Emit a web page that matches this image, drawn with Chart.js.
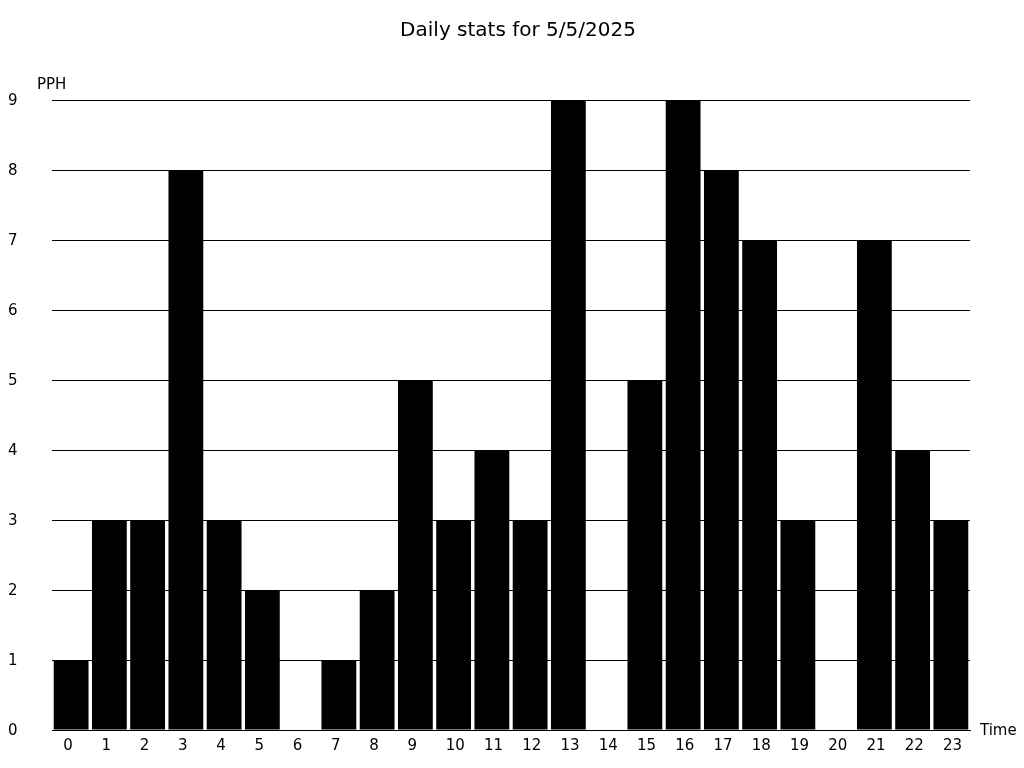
<!DOCTYPE html>
<html>
<head>
<meta charset="utf-8">
<script src="https://cdn.jsdelivr.net/npm/chart.js@4"></script>
<style>
  html, body { margin: 0; padding: 0; background: #fff; }
  #wrap { width: 1024px; height: 768px; }
</style>
</head>
<body>
<div id="wrap"><canvas id="daily-stats"></canvas></div>
<script>
// hours of the day
const hours = ["0","1","2","3","4","5","6","7","8","9","10","11","12","13","14","15","16","17","18","19","20","21","22","23"];
// pph per hour
const pph = [1, 3, 3, 8, 3, 2, 0, 1, 2, 5, 3, 4, 3, 9, 0, 5, 9, 8, 7, 3, 0, 7, 4, 3];
const yMax = 9;
const titleText = "Daily stats for 5/5/2025";

Chart.defaults.font.family = "'DejaVu Sans', sans-serif";
Chart.defaults.color = "#000";

// title + axis names: "PPH" top left, "Time" bottom right
const axisNames = {
    id: "axisNames",
    afterDraw(chart) {
        const ctx = chart.ctx;
        const area = chart.chartArea;
        ctx.save();
        ctx.fillStyle = "#000";
        ctx.textBaseline = "middle";
        ctx.textAlign = "center";
        ctx.font = "20px 'DejaVu Sans', sans-serif";
        ctx.fillText(titleText, 518, 31);
        ctx.textAlign = "left";
        ctx.font = "15px 'DejaVu Sans', sans-serif";
        ctx.fillText("PPH", 37, area.top - 15);
        ctx.fillText("Time", area.right + 10, area.bottom + 1);
        ctx.restore();
    }
};

new Chart(document.getElementById("daily-stats"), {
    type: "bar",
    data: {
        labels: hours,
        datasets: [{
            label: "PPH",
            data: pph,
            backgroundColor: "#000",
            borderWidth: 0,
            barPercentage: 0.91,
            categoryPercentage: 1.0,
        }]
    },
    options: {
        responsive: true,
        maintainAspectRatio: false,
        animation: false,
        layout: {
            padding: { left: 8, right: 54, top: 100, bottom: 12 }
        },
        scales: {
            x: {
                grid: { display: false, drawTicks: false },
                border: { display: true, color: "#000", width: 1 },
                ticks: { font: { size: 15 }, padding: 7, align: "start", labelOffset: -8, maxRotation: 0 },
                afterFit(scale) { scale.height = 26; }
            },
            y: {
                min: 0,
                max: yMax,
                grid: { color: "#000", lineWidth: 1, drawTicks: false },
                border: { display: false },
                ticks: { stepSize: 1, font: { size: 15 }, crossAlign: "far", padding: 0, labelOffset: 1.5 },
                afterFit(scale) { scale.width = 44; }
            }
        },
        plugins: {
            legend: { display: false },
            tooltip: { enabled: false },
            title: { display: false }
        }
    },
    plugins: [axisNames]
});
</script>
</body>
</html>
